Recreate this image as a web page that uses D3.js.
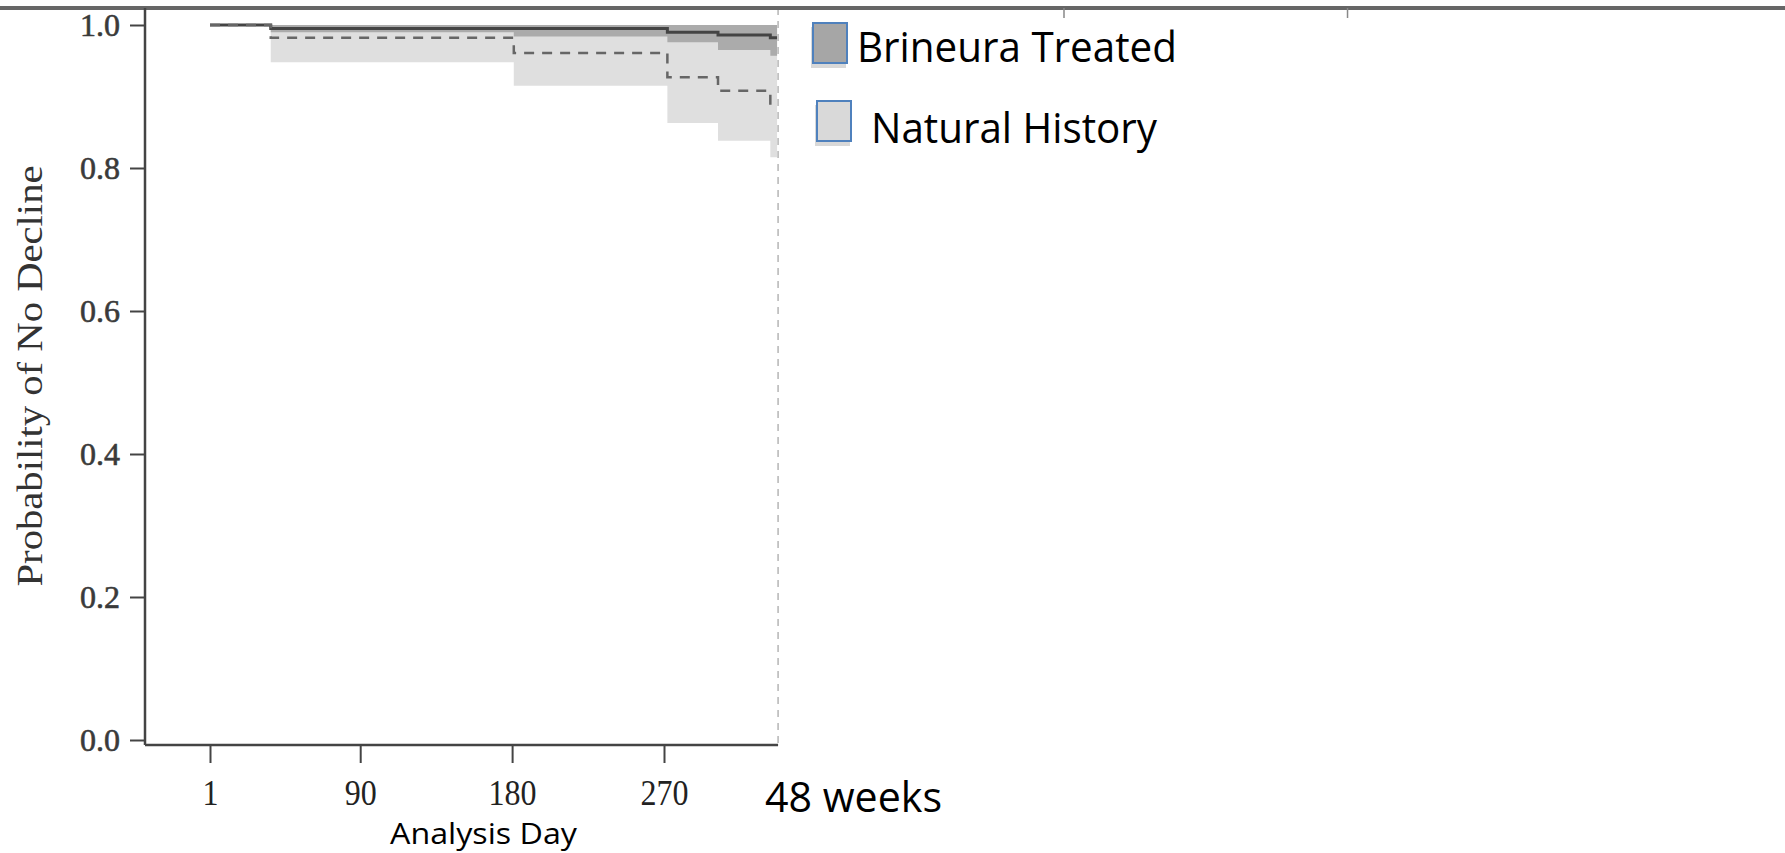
<!DOCTYPE html>
<html>
<head>
<meta charset="utf-8">
<script src="https://cdn.jsdelivr.net/npm/d3@7"></script>
<style>
  body { margin: 0; background: #fff; }
  svg { display: block; }
</style>
</head>
<body>
<svg id="chart" width="1785" height="853"></svg>
<script>
// Step start days (last entry closes the final step at 48 weeks)
const stepDays = [1, 37, 181, 272, 302, 333, 337];

// Brineura treated: KM estimate and confidence band
const treatedSurv  = [1.0, 0.995, 0.995, 0.990, 0.986, 0.982, 0.982];
const treatedLower = [1.0, 0.990, 0.984, 0.976, 0.965, 0.957, 0.957];
const treatedUpper = [1.0, 1.0, 1.0, 1.0, 1.0, 1.0, 1.0];

// Natural history: KM estimate and confidence band
const historySurv  = [1.0, 0.982, 0.961, 0.927, 0.908, 0.888, 0.888];
const historyLower = [1.0, 0.948, 0.915, 0.863, 0.838, 0.815, 0.815];
const historyUpper = [1.0, 1.0, 1.0, 1.0, 1.0, 1.0, 1.0];

const xTicks = [1, 90, 180, 270];
const yTicks = [0, 0.2, 0.4, 0.6, 0.8, 1.0];
const topTickDays = [507, 675];
const endDay = 337;

const legendItems = [
  { label: "Brineura Treated", fill: "#a6a6a6" },
  { label: "Natural History", fill: "#d9d9d9" }
];

const svg = d3.select("#chart");

const x = d3.scaleLinear().domain([1, 270]).range([210, 664]);
const y = d3.scaleLinear().domain([0, 1]).range([740, 25]);

const topY = 8, axisY = 745, axisX = 145;

const rows = stepDays.map((d, i) => ({
  day: d,
  ts: treatedSurv[i], tl: treatedLower[i], tu: treatedUpper[i],
  hs: historySurv[i], hl: historyLower[i], hu: historyUpper[i]
}));

// Confidence bands
const band = (lo, hi) => d3.area()
  .curve(d3.curveStepAfter)
  .x(d => x(d.day))
  .y0(d => y(d[lo]))
  .y1(d => y(d[hi]));

svg.append("path")
  .datum(rows.slice(1))
  .attr("d", band("hl", "hu"))
  .attr("fill", "#dfdfdf");

svg.append("path")
  .datum(rows.slice(1))
  .attr("d", band("tl", "tu"))
  .attr("fill", "#ababab");

// Survival lines
const step = key => d3.line()
  .curve(d3.curveStepAfter)
  .x(d => x(d.day))
  .y(d => y(d[key]));

svg.append("path")
  .datum(rows)
  .attr("d", step("ts"))
  .attr("fill", "none")
  .attr("stroke", "#444")
  .attr("stroke-width", 3);

svg.append("path")
  .datum(rows)
  .attr("d", step("hs"))
  .attr("fill", "none")
  .attr("stroke", "#666")
  .attr("stroke-width", 2.5)
  .attr("stroke-dasharray", "10,8");

// 48 week reference line
svg.append("line")
  .attr("x1", x(endDay) + 1).attr("x2", x(endDay) + 1)
  .attr("y1", topY).attr("y2", axisY)
  .attr("stroke", "#b5b5b5")
  .attr("stroke-width", 1.5)
  .attr("stroke-dasharray", "7,6");

// Top border with its small ticks
svg.append("line")
  .attr("x1", 0).attr("x2", 1785)
  .attr("y1", topY).attr("y2", topY)
  .attr("stroke", "#666")
  .attr("stroke-width", 4);

svg.selectAll(".top-tick")
  .data(topTickDays)
  .join("line")
  .attr("class", "top-tick")
  .attr("x1", d => x(d)).attr("x2", d => x(d))
  .attr("y1", topY).attr("y2", topY + 10)
  .attr("stroke", "#888")
  .attr("stroke-width", 1.5);

// Y axis
const yAxis = svg.append("g")
  .attr("transform", `translate(${axisX},0)`)
  .call(d3.axisLeft(y).tickValues(yTicks).tickFormat(d3.format(".1f"))
    .tickSize(15).tickPadding(10));
yAxis.select(".domain").remove();
yAxis.selectAll("line").attr("stroke", "#444").attr("stroke-width", 2);
yAxis.selectAll("text")
  .attr("font-family", "'Liberation Serif', 'Times New Roman', serif")
  .attr("font-size", 32)
  .attr("fill", "#3a3a3a")
  .attr("stroke", "#3a3a3a")
  .attr("stroke-width", 0.6);

svg.append("line")
  .attr("x1", axisX).attr("x2", axisX)
  .attr("y1", topY).attr("y2", axisY)
  .attr("stroke", "#444")
  .attr("stroke-width", 2.5);

// X axis
const xAxis = svg.append("g")
  .attr("transform", `translate(0,${axisY})`)
  .call(d3.axisBottom(x).tickValues(xTicks).tickSize(18).tickPadding(18));
xAxis.select(".domain").remove();
xAxis.selectAll("line").attr("stroke", "#444").attr("stroke-width", 2);
xAxis.selectAll("text")
  .attr("font-family", "'Liberation Serif', 'Times New Roman', serif")
  .attr("font-size", 32)
  .attr("fill", "#222")
  .attr("y", 52)
  .attr("dy", null)
  .attr("transform", "scale(1,1.15)");

svg.append("line")
  .attr("x1", axisX).attr("x2", x(endDay) + 1)
  .attr("y1", axisY).attr("y2", axisY)
  .attr("stroke", "#444")
  .attr("stroke-width", 2.5);

// Axis titles
svg.append("text")
  .attr("transform", "translate(42,376) rotate(-90)")
  .attr("text-anchor", "middle")
  .attr("font-family", "'Liberation Serif', 'Times New Roman', serif")
  .attr("font-size", 36)
  .attr("fill", "#333")
  .attr("textLength", 421)
  .attr("lengthAdjust", "spacingAndGlyphs")
  .text("Probability of No Decline");

svg.append("text")
  .attr("x", 390).attr("y", 844)
  .attr("font-family", "'Open Sans', sans-serif")
  .attr("font-size", 30)
  .attr("fill", "#000")
  .attr("textLength", 187)
  .attr("lengthAdjust", "spacingAndGlyphs")
  .text("Analysis Day");

svg.append("text")
  .attr("x", 765).attr("y", 812)
  .attr("font-family", "'Open Sans', sans-serif")
  .attr("font-size", 42)
  .attr("fill", "#000")
  .attr("textLength", 177)
  .attr("lengthAdjust", "spacingAndGlyphs")
  .text("48 weeks");

// Legend
const legendPos = [
  { bx: 813, by: 23, tx: 857, ty: 62, tl: 320 },
  { bx: 817, by: 101, tx: 871, ty: 143, tl: 286 }
];

const legend = svg.selectAll(".legend")
  .data(legendItems)
  .join("g")
  .attr("class", "legend");

legend.append("rect")
  .attr("x", (d, i) => legendPos[i].bx - 2)
  .attr("y", (d, i) => legendPos[i].by + 4)
  .attr("width", 35).attr("height", 41)
  .attr("fill", "#c8c8c8")
  .attr("opacity", 0.7);

legend.append("rect")
  .attr("x", (d, i) => legendPos[i].bx)
  .attr("y", (d, i) => legendPos[i].by)
  .attr("width", 34).attr("height", 40)
  .attr("fill", d => d.fill)
  .attr("stroke", "#4f81bd")
  .attr("stroke-width", 2);

legend.append("text")
  .attr("x", (d, i) => legendPos[i].tx)
  .attr("y", (d, i) => legendPos[i].ty)
  .attr("font-family", "'Open Sans', sans-serif")
  .attr("font-size", 42)
  .attr("fill", "#000")
  .attr("textLength", (d, i) => legendPos[i].tl)
  .attr("lengthAdjust", "spacingAndGlyphs")
  .text(d => d.label);
</script>
</body>
</html>
